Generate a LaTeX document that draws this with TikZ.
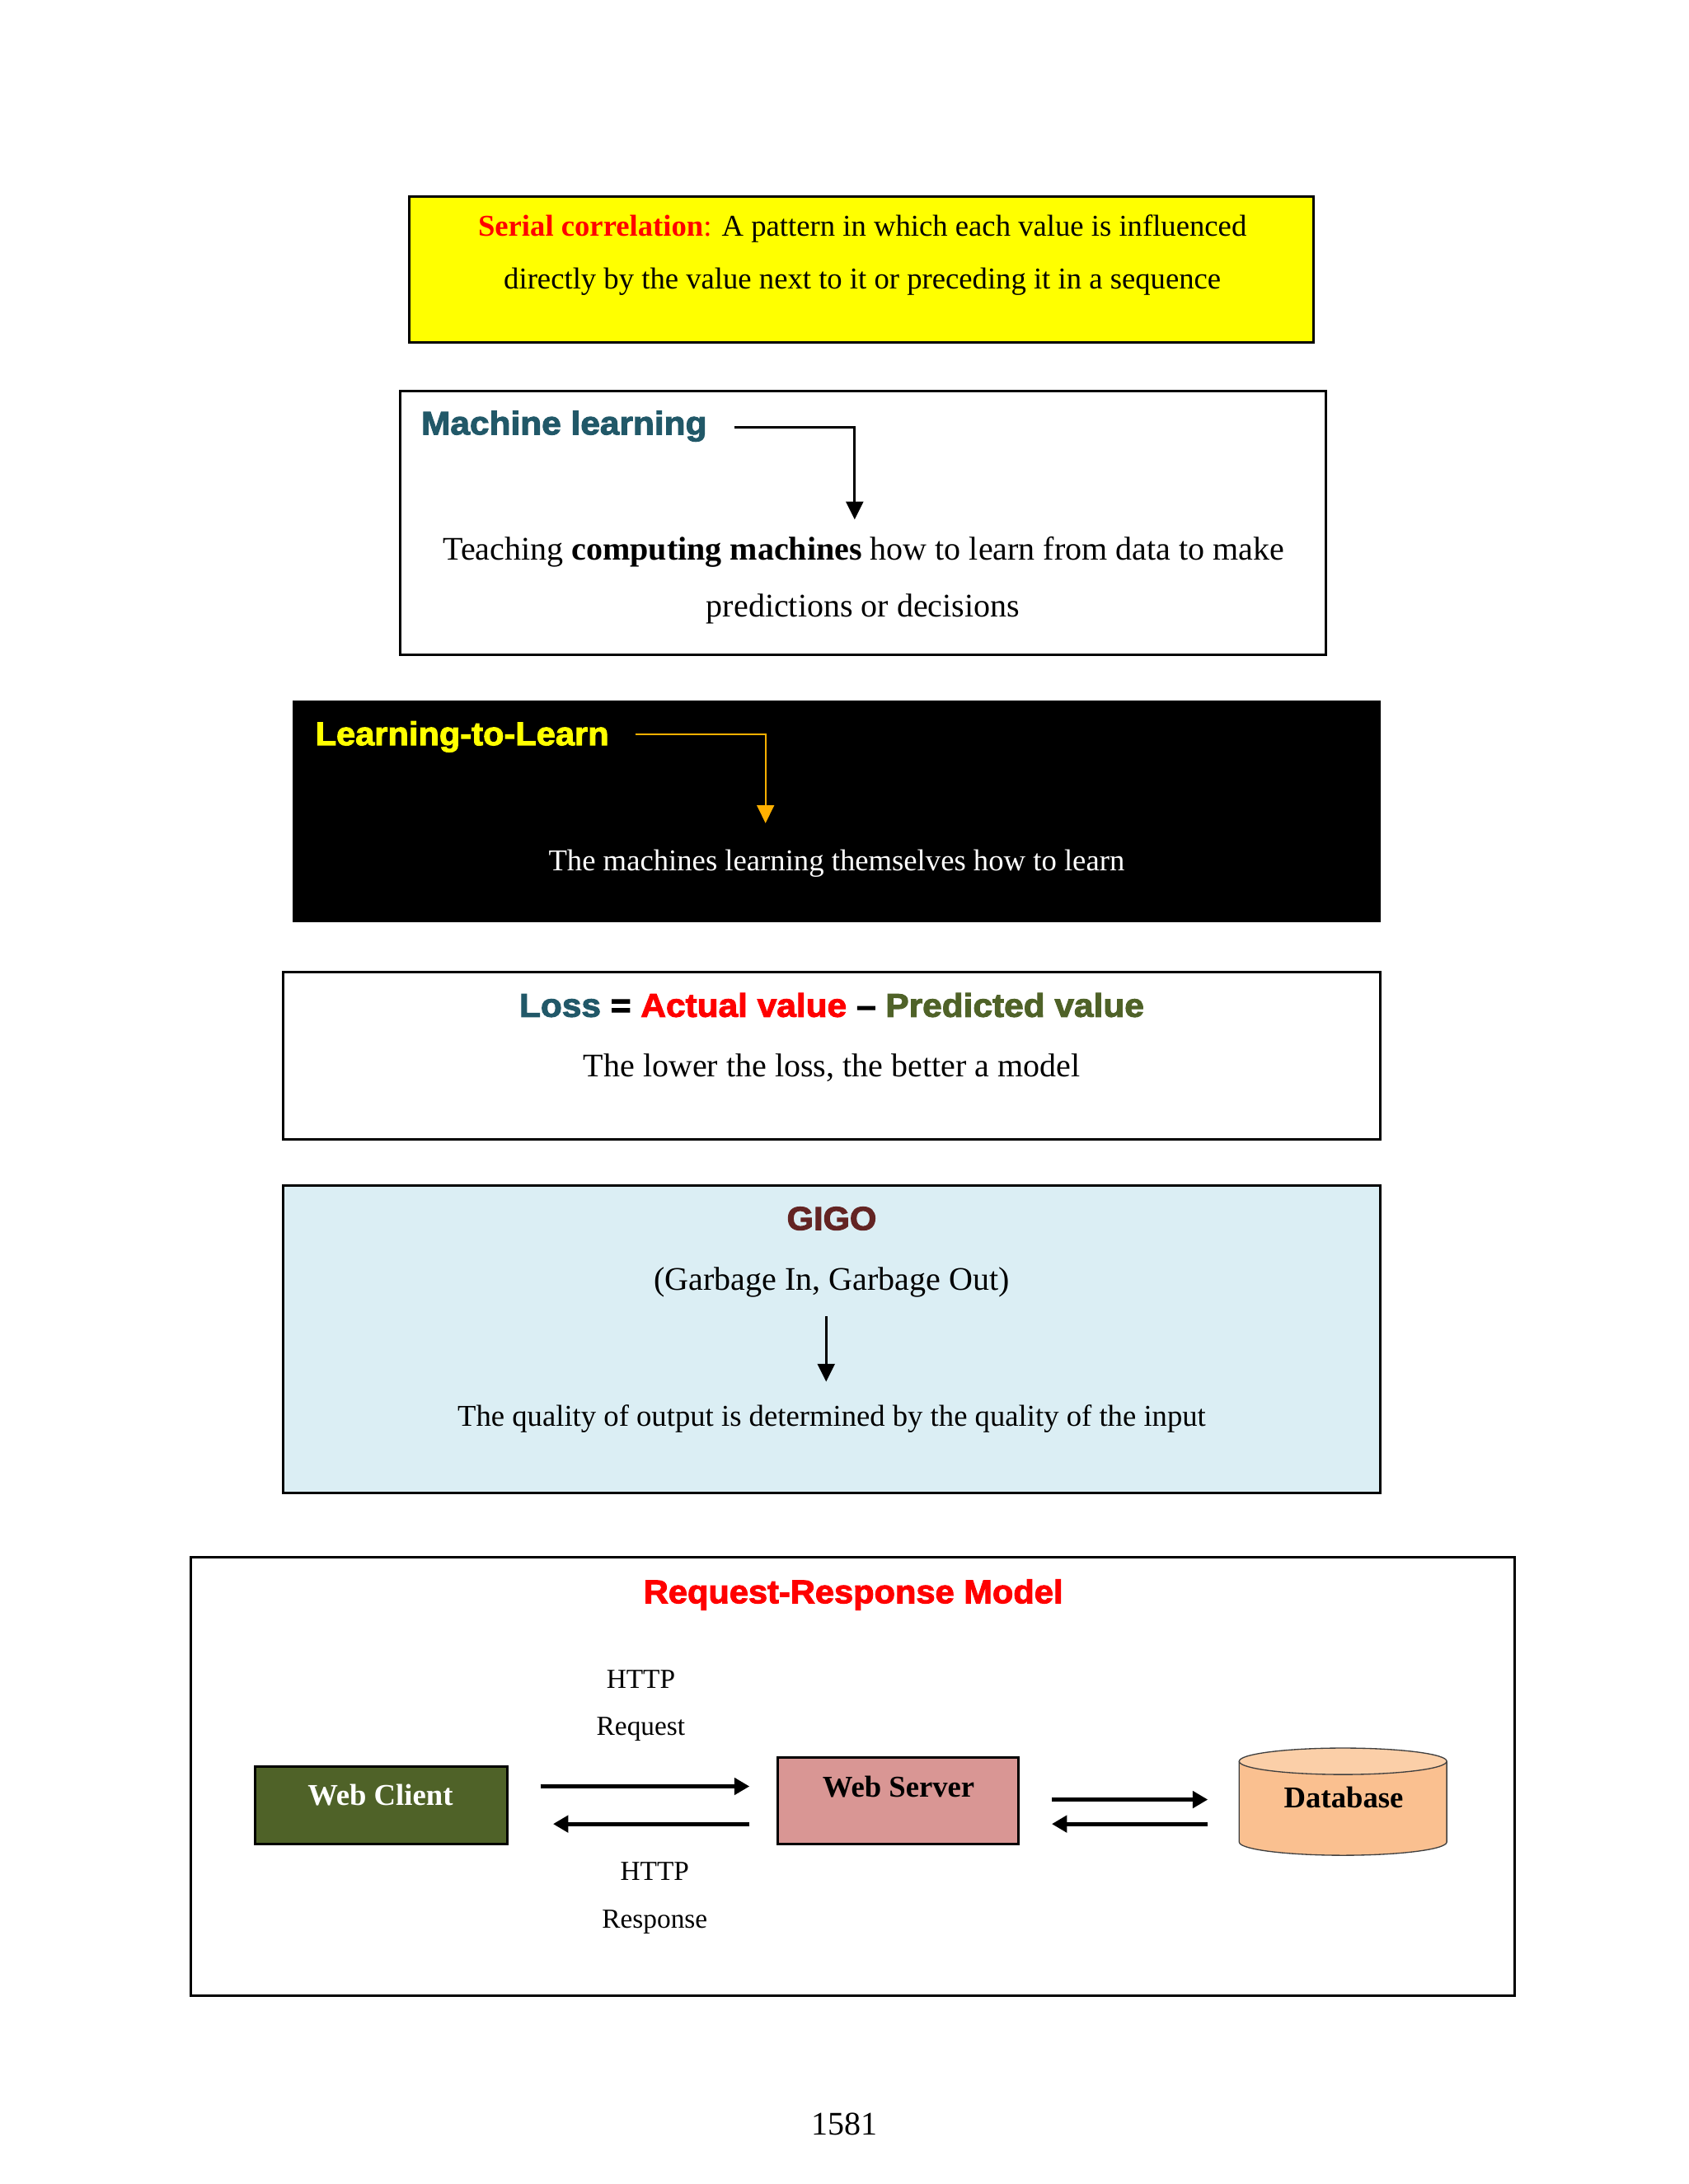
\documentclass[tikz,border=0pt]{standalone}
\usepackage{fontspec}
\setmainfont{Liberation Serif}
\newfontfamily\hdfont[FakeBold=2.5,FakeStretch=1.04]{Liberation Sans Bold}
\newfontfamily\hdwide[FakeBold=2.5,FakeStretch=1.06]{Liberation Sans Bold}
\usetikzlibrary{arrows.meta}
\definecolor{yel}{RGB}{255,255,0}
\definecolor{red1}{RGB}{255,0,0}
\definecolor{teal1}{HTML}{215868}
\definecolor{olive1}{HTML}{4F6228}
\definecolor{maroon1}{HTML}{632423}
\definecolor{ltblue}{HTML}{DBEEF4}
\definecolor{rose1}{HTML}{D99694}
\definecolor{peach1}{HTML}{FAC090}
\definecolor{peach2}{HTML}{FBCFA8}
\definecolor{amber1}{HTML}{FFB000}
\tikzset{
  x=0.50495bp,y=-0.50495bp,
  boxed/.style={draw=black,line width=0.9pt},
  txt/.style={inner sep=0pt,anchor=base,font=\fontsize{12}{14}\selectfont},
  txts/.style={txt,font=\fontsize{11}{13}\selectfont},
  small/.style={txt,font=\fontsize{10}{12}\selectfont},
  hd/.style={inner sep=0pt,anchor=base,font=\hdfont\fontsize{12}{14}\selectfont},
  hdl/.style={hd,anchor=base west},
  hdw/.style={hd,font=\hdwide\fontsize{12}{14}\selectfont},
  thin arrow/.style={line width=0.9pt,-{Triangle[width=6.2bp,length=6.5bp]}},
  thick arrow/.style={line width=1.5pt,-{Triangle[width=6bp,length=5.5bp]}},
  smallbox/.style={draw=black,line width=0.9pt,inner sep=0pt,outer sep=0pt,anchor=north west},
  boxlabel/.style={inner sep=0pt,anchor=base,font=\fontsize{11}{13}\selectfont\bfseries},
}
\begin{document}
\begin{tikzpicture}
\useasboundingbox (0,0) rectangle (1212,1568);
\fill[white] (0,0) rectangle (1212,1568);
% Serial correlation
\draw[boxed,fill=yel] (294,141) rectangle (943,246);
\node[txts] (sc1) at (619,169.5) {\textcolor{red1}{\textbf{Serial correlation}:} A pattern in which each value is influenced};
\node[txts] (sc2) at (619,207.5) {directly by the value next to it or preceding it in a sequence};
% Machine learning
\draw[boxed] (287,281) rectangle (952,470);
\node[hdw,anchor=base west,text=teal1] (ml) at (302,312) {Machine learning};
\coordinate (mla) at (527,307);
\coordinate (mlb) at (613.5,373);
\draw[thin arrow] (mla) -| (mlb);
\node[txt] (ml1) at (620,402) {Teaching \textbf{computing machines} how to learn from data to make};
\node[txt] (ml2) at (619.5,443) {predictions or decisions};
% Learning-to-learn
\fill[black] (210,503) rectangle (991,662);
\node[hdl,text=yel] (ltl) at (226,535) {Learning-to-Learn};
\coordinate (la) at (456,527);
\coordinate (lb) at (549.5,591);
\draw[thin arrow,draw=amber1,line width=0.7pt] (la) -| (lb);
\node[txts,text=white] (ltl1) at (600.5,625) {The machines learning themselves how to learn};
% Loss
\draw[boxed] (203,698) rectangle (991,818);
\node[hdw] (loss) at (597,730) {\textcolor{teal1}{Loss} = \textcolor{red1}{Actual value} – \textcolor{olive1}{Predicted value}};
\node[txt] (loss1) at (597,773) {The lower the loss, the better a model};
% GIGO
\draw[boxed,fill=ltblue] (203,851) rectangle (991,1072);
\node[hd,text=maroon1] (gigo) at (597,883) {GIGO};
\node[txt] (gigo1) at (597,926) {(Garbage In, Garbage Out)};
\coordinate (ga) at (593,945);
\coordinate (gb) at (593,992);
\draw[thin arrow] (ga) -- (gb);
\node[txts] (gigo2) at (597,1024) {The quality of output is determined by the quality of the input};
% Model
\draw[boxed] (137,1118) rectangle (1087,1433);
\node[hd,text=red1] (rr) at (612.5,1151) {Request-Response Model};
\node[small] (h1) at (460,1212) {HTTP};
\node[small] (h2) at (460,1246) {Request};
\node[small] (h3) at (470,1350) {HTTP};
\node[small] (h4) at (470,1384) {Response};
\node[smallbox,fill=olive1,minimum width=91.4bp,minimum height=28.3bp] (wc) at (183,1268) {};
\node[boxlabel,text=white] (wct) at (273,1296) {Web Client};
\node[smallbox,fill=rose1,minimum width=87.4bp,minimum height=31.3bp] (ws) at (558,1262) {};
\node[boxlabel] (wst) at (645,1290) {Web Server};
% Database cylinder
\path[fill=peach1,draw=black!75,line width=0.4pt] (889.5,1264.5) -- (889.5,1322.5)
  .. controls (889.5,1327.7) and (922.9,1332) .. (964,1332)
  .. controls (1005.1,1332) and (1038.5,1327.7) .. (1038.5,1322.5) -- (1038.5,1264.5);
\draw[fill=peach2,draw=black!75,line width=0.4pt] (964,1264.5) ellipse [x radius=74.5,y radius=9.5];
\node[boxlabel] (dbt) at (964.5,1298) {Database};
\coordinate (a1) at (388,1282.5); \coordinate (a2) at (538,1282.5);
\coordinate (a3) at (538,1309.5); \coordinate (a4) at (397,1309.5);
\coordinate (a5) at (755,1292); \coordinate (a6) at (867,1292);
\coordinate (a7) at (867,1309.5); \coordinate (a8) at (755,1309.5);
\draw[thick arrow] (a1) -- (a2);
\draw[thick arrow] (a3) -- (a4);
\draw[thick arrow] (a5) -- (a6);
\draw[thick arrow] (a7) -- (a8);
\node[txt] (pg) at (606,1533) {1581};
\end{tikzpicture}
\end{document}
